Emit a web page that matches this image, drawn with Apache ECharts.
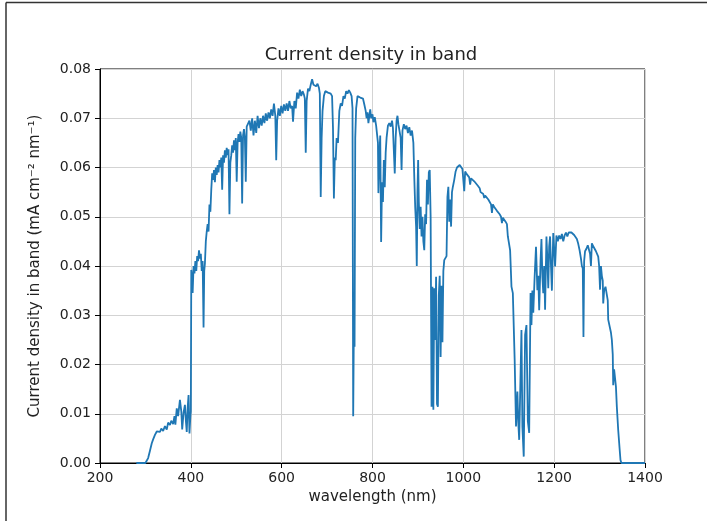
<!DOCTYPE html>
<html>
<head>
<meta charset="utf-8">
<title>Current density in band</title>
<script src="https://cdn.jsdelivr.net/npm/echarts@6/dist/echarts.min.js"></script>
<style>
    html, body { margin: 0; padding: 0; background: #fff; }
    #bandChart { width: 707px; height: 521px; }
</style>
</head>
<body>
<div id="bandChart"></div>
<script>
/*---------------------数据----------------------------*/
// wavelength (nm)
var wavelength = [
    280, 300, 303, 306, 310, 314, 317, 321, 325, 328, 332, 335, 339, 343, 347, 350, 354, 357,
    361, 364, 366, 369, 372, 376, 379, 381, 384, 387, 389, 391, 393, 395, 397, 399, 400,
    401, 403, 404, 406, 408, 410, 412, 414, 416, 418, 420, 422, 424, 426, 428, 429.5, 431,
    433, 435, 437, 439, 441, 443, 445, 447, 449, 451, 453, 455, 457, 459, 461, 463, 465,
    467, 469, 471, 473, 475, 477, 479, 481, 483, 485, 487, 489, 491, 493, 495, 497, 499,
    501, 503, 505, 507, 509, 511, 513, 515, 517, 519, 521, 523, 526, 529, 532, 535, 538,
    541, 544, 547, 550, 553, 556, 559, 562, 565, 568, 571, 574, 577, 580, 583, 586, 588,
    590, 593, 596, 599, 602, 605, 608, 611, 614, 617, 620, 623, 625, 628, 631, 634, 637,
    640, 643, 646, 649, 651, 653, 655, 658, 661, 664, 667, 670, 673, 676, 679, 682, 684,
    686, 688, 690, 693, 696, 699, 702, 705, 708, 711, 713, 715, 717, 719, 721, 724, 727,
    730, 733, 736, 739, 742, 745, 748, 751, 754, 756, 757.5, 759, 760.5, 762, 764, 767,
    770, 773, 776, 779, 782, 785, 787, 789, 791, 793, 795, 797, 800, 802, 805, 808, 810,
    812, 813, 815, 817, 819, 821, 823, 825, 827, 829, 831, 834, 837, 840, 843, 845, 847,
    849, 851, 853, 855, 857, 860, 862, 864, 866, 869, 872, 875, 878, 881, 884, 887, 890,
    892, 894, 896, 897.5, 899, 900.5, 902, 904, 906, 908, 910, 912, 914, 916, 918, 920,
    922, 924, 926, 928, 930, 932, 934, 936, 938, 940, 942, 944, 946, 948, 950, 952, 954,
    956, 958, 961, 963, 965, 967, 969, 971, 973, 975, 977, 980, 983, 986, 989, 992, 995,
    998, 1000, 1002, 1004, 1007, 1010, 1013, 1015, 1017, 1020, 1024, 1028, 1032, 1036,
    1038, 1040, 1044, 1046, 1048, 1052, 1055, 1058, 1061, 1063, 1065, 1068, 1071, 1074,
    1077, 1080, 1083, 1085, 1087, 1090, 1093, 1096, 1098, 1100, 1103, 1106, 1109, 1111,
    1113, 1116, 1119, 1121, 1123, 1125, 1128, 1130, 1133, 1136, 1139, 1142, 1145, 1148,
    1150, 1152, 1154, 1157, 1160, 1163, 1165, 1167, 1170, 1172, 1174, 1176, 1178, 1180,
    1183, 1185, 1187, 1189, 1191, 1193, 1195, 1198, 1200, 1202, 1205, 1208, 1211, 1214,
    1217, 1220, 1223, 1226, 1229, 1232, 1235, 1238, 1241, 1244, 1247, 1250, 1253, 1256,
    1259, 1261, 1263, 1264.5, 1266, 1268, 1271, 1274, 1277, 1279, 1281, 1283, 1286, 1289,
    1292, 1295, 1297, 1299, 1301, 1303, 1305, 1307, 1308, 1310, 1313, 1316, 1318, 1319,
    1322, 1325, 1327, 1329, 1330, 1332, 1334, 1336, 1338, 1341, 1344, 1346, 1348, 1352, 1400
];
// current density in band (mA cm-2 nm-1)
var density = [
    0, 0, 0, 0.001, 0.0025, 0.004, 0.0048, 0.0057, 0.0064, 0.0067, 0.0063, 0.007, 0.0065, 0.0075, 0.0068, 0.0082, 0.0077, 0.0086,
    0.0079, 0.0095, 0.0078, 0.0111, 0.0095, 0.0128, 0.0105, 0.0068, 0.0102, 0.0118, 0.0087, 0.0063, 0.0112, 0.0138, 0.006, 0.0095, 0.0105,
    0.0392, 0.037, 0.0345, 0.04, 0.0385, 0.041, 0.039, 0.042, 0.041, 0.0432, 0.0415, 0.0425, 0.039, 0.041, 0.0275, 0.039, 0.0405,
    0.045, 0.047, 0.0485, 0.047, 0.0525, 0.051, 0.0555, 0.0588, 0.0575, 0.0595, 0.057, 0.06, 0.0585, 0.0605, 0.059, 0.0615, 0.06,
    0.062, 0.0555, 0.0625, 0.061, 0.0635, 0.062, 0.064, 0.0625, 0.0637, 0.0505, 0.061, 0.0625, 0.0645, 0.063, 0.0655, 0.0635, 0.066,
    0.0571, 0.065, 0.0668, 0.0652, 0.0673, 0.066, 0.0527, 0.0665, 0.0678, 0.066, 0.0571, 0.0683, 0.068, 0.0695, 0.0675, 0.07, 0.0665,
    0.0695, 0.067, 0.0705, 0.068, 0.07, 0.0685, 0.0705, 0.069, 0.071, 0.0695, 0.0712, 0.07, 0.0718, 0.0705, 0.073, 0.0705, 0.0615,
    0.0695, 0.072, 0.0705, 0.0725, 0.071, 0.0728, 0.0715, 0.073, 0.0715, 0.0735, 0.072, 0.0725, 0.0693, 0.0735, 0.072, 0.0752, 0.074,
    0.0758, 0.0745, 0.0755, 0.0748, 0.074, 0.063, 0.0735, 0.076, 0.0755, 0.0768, 0.0779, 0.0768, 0.0772, 0.0765, 0.077, 0.0762, 0.075,
    0.054, 0.066, 0.0715, 0.0745, 0.0755, 0.0758, 0.0752, 0.0755, 0.075, 0.0745, 0.068, 0.0537, 0.062, 0.0615, 0.066, 0.065, 0.0715,
    0.073, 0.0725, 0.0745, 0.074, 0.0755, 0.075, 0.0757, 0.0752, 0.0745, 0.072, 0.0095, 0.028, 0.0236, 0.066, 0.072, 0.0745,
    0.0748, 0.0742, 0.0745, 0.074, 0.0728, 0.0715, 0.07, 0.0712, 0.069, 0.0705, 0.0718, 0.07, 0.0708, 0.0692, 0.0702, 0.0685, 0.0688,
    0.065, 0.0548, 0.062, 0.0665, 0.0449, 0.057, 0.053, 0.0615, 0.056, 0.063, 0.066, 0.0685, 0.069, 0.0683, 0.0695, 0.068, 0.0678,
    0.0588, 0.066, 0.0695, 0.0705, 0.0688, 0.069, 0.066, 0.0595, 0.0675, 0.0688, 0.0678, 0.0685, 0.067, 0.0682, 0.0665, 0.0675, 0.065,
    0.058, 0.052, 0.048, 0.04, 0.055, 0.0615, 0.053, 0.0475, 0.052, 0.046, 0.05, 0.045, 0.0432, 0.0505, 0.0485, 0.0575,
    0.0525, 0.059, 0.0595, 0.05, 0.0114, 0.0358, 0.0108, 0.0355, 0.025, 0.0378, 0.012, 0.0114, 0.034, 0.038, 0.0215, 0.036, 0.0245,
    0.039, 0.0412, 0.0412, 0.042, 0.054, 0.0561, 0.049, 0.0535, 0.048, 0.055, 0.0561, 0.0575, 0.0592, 0.06, 0.0603, 0.0605, 0.0602,
    0.0597, 0.0595, 0.0552, 0.0592, 0.0587, 0.0585, 0.058, 0.0565, 0.0578, 0.0575, 0.0572, 0.0568, 0.0563, 0.0558,
    0.055, 0.0553, 0.0546, 0.0538, 0.0543, 0.054, 0.0535, 0.0532, 0.0525, 0.0508, 0.0525, 0.052, 0.0518, 0.0512,
    0.051, 0.0505, 0.05, 0.0487, 0.0498, 0.0495, 0.049, 0.0485, 0.046, 0.0449, 0.0432, 0.0358, 0.0345, 0.0277,
    0.021, 0.0074, 0.0145, 0.0082, 0.0047, 0.0135, 0.027, 0.0074, 0.0013, 0.026, 0.028, 0.0085, 0.0061, 0.0345,
    0.028, 0.035, 0.0305, 0.0378, 0.0439, 0.0351, 0.038, 0.031, 0.041, 0.0455, 0.038, 0.0345, 0.04, 0.0311,
    0.046, 0.0415, 0.0355, 0.044, 0.046, 0.04, 0.035, 0.0467, 0.0435, 0.0399, 0.0462, 0.045, 0.0462, 0.0455,
    0.0465, 0.045, 0.0462, 0.0468, 0.046, 0.0468, 0.047, 0.0468, 0.0465, 0.0463, 0.046, 0.0455, 0.0445, 0.0432,
    0.0415, 0.04, 0.0395, 0.0256, 0.041, 0.043, 0.0435, 0.0442, 0.0439, 0.0425, 0.04, 0.0446, 0.044, 0.0435,
    0.043, 0.0428, 0.0419, 0.04, 0.0352, 0.04, 0.038, 0.037, 0.0324, 0.035, 0.0358, 0.0358, 0.033, 0.0291,
    0.029, 0.0265, 0.025, 0.022, 0.0158, 0.019, 0.019, 0.0155, 0.0114, 0.0067, 0.003, 0.0006, 0, 0, 0
];
var xTicks = [200, 400, 600, 800, 1000, 1200, 1400];
var yTicks = [0.00, 0.01, 0.02, 0.03, 0.04, 0.05, 0.06, 0.07, 0.08];

var seriesData = wavelength.map(function (w, i) {
    return [w, density[i]];
});

/*---------------------样式----------------------------*/
var fontFamily = 'DejaVu Sans';
var textColor = '#222';
var gridColor = '#d3d3d3';

var myChart = echarts.init(document.getElementById('bandChart'), null, { renderer: 'canvas' });

var option = {
    backgroundColor: '#fff',
    animation: false,
    title: {
        text: 'Current density in band',
        left: 366,
        top: 41,
        textAlign: 'center',
        textStyle: {
            color: textColor,
            fontFamily: fontFamily,
            fontSize: 18,
            fontWeight: 'normal'
        }
    },
    grid: {
        left: 100,
        right: 62,
        top: 69,
        bottom: 58,
        show: true,
        borderColor: '#000',
        borderWidth: 1,
        backgroundColor: 'transparent'
    },
    xAxis: {
        type: 'value',
        min: xTicks[0],
        max: xTicks[xTicks.length - 1],
        interval: 200,
        name: 'wavelength (nm)',
        nameLocation: 'middle',
        nameGap: 26,
        nameTextStyle: { color: textColor, fontFamily: fontFamily, fontSize: 15 },
        axisLine: { show: true, onZero: false, lineStyle: { color: '#000', width: 1 } },
        axisTick: { show: true, inside: false, length: 5, lineStyle: { color: '#000' } },
        axisLabel: {
            color: textColor,
            fontFamily: fontFamily,
            fontSize: 14,
            margin: 8,
            formatter: function (v) { return String(v); }
        },
        splitLine: { show: true, lineStyle: { color: gridColor, width: 1 } }
    },
    yAxis: {
        type: 'value',
        min: yTicks[0],
        max: yTicks[yTicks.length - 1],
        interval: 0.01,
        name: 'Current density in band (mA cm\u207B\u00B2 nm\u207B\u00B9)',
        nameLocation: 'middle',
        nameRotate: 90,
        nameGap: 57,
        nameTextStyle: { color: textColor, fontFamily: fontFamily, fontSize: 15 },
        axisLine: { show: true, lineStyle: { color: '#000', width: 1 } },
        axisTick: { show: true, inside: false, length: 5, lineStyle: { color: '#000' } },
        axisLabel: {
            color: textColor,
            fontFamily: fontFamily,
            fontSize: 14,
            margin: 9,
            formatter: function (v) { return v.toFixed(2); }
        },
        splitLine: { show: true, lineStyle: { color: gridColor, width: 1 } }
    },
    series: [{
        name: 'Current density',
        type: 'line',
        data: seriesData,
        showSymbol: false,
        symbol: 'none',
        smooth: false,
        clip: true,
        lineStyle: { color: '#1f77b4', width: 1.8 },
        z: 5
    }],
    // outer frame of the picture
    graphic: [{
        type: 'line',
        shape: { x1: 6, y1: 2.5, x2: 707, y2: 2.5 },
        style: { stroke: '#333', lineWidth: 1.5 }
    }, {
        type: 'line',
        shape: { x1: 6, y1: 2.5, x2: 6, y2: 521 },
        style: { stroke: '#333', lineWidth: 1.5 }
    }]
};

myChart.setOption(option);
</script>
</body>
</html>
